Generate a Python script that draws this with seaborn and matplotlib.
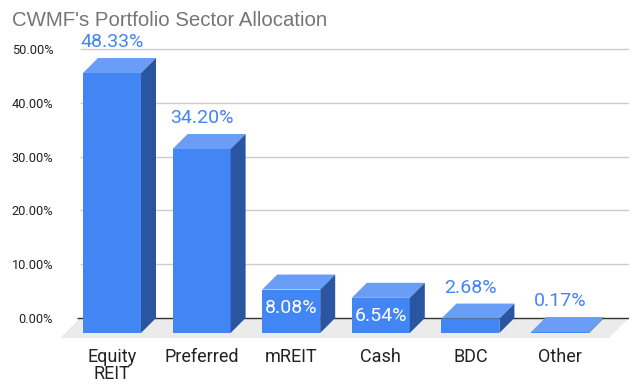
import matplotlib
matplotlib.use('Agg')
import matplotlib.pyplot as plt
from matplotlib.patches import Polygon
import seaborn as sns
import pandas as pd

# data
sectors = ['Equity\nREIT', 'Preferred', 'mREIT', 'Cash', 'BDC', 'Other']
weights = [48.33, 34.20, 8.08, 6.54, 2.68, 0.17]
y_ticks = [0, 10, 20, 30, 40, 50]
y_tick_labels = ['0.00%', '10.00%', '20.00%', '30.00%', '40.00%', '50.00%']
inside_labels = ['mREIT', 'Cash']

# colours
front_col = '#4285f4'
top_col = '#699df6'
side_col = '#2a56a1'
floor_col = '#ebebeb'

# layout in pixels (figure is 633x388)
W, H = 633, 388
ax_left, ax_right, ax_top, ax_bottom = 60, 629, 30, 338
slot = 89.6          # distance between bar centres
first_center = 112   # front centre of first bar
zero_front = 333     # pixel row of 0 on the front plane
px_per_pct = 5.38
depth = 15           # bar depth
floor_depth = 20

sns.set_style('white')
plt.rcParams['font.family'] = ['Roboto', 'DejaVu Sans']

fig = plt.figure(figsize=(W / 100, H / 100), dpi=100)
ax = fig.add_axes([ax_left / W, 1 - ax_bottom / H,
                   (ax_right - ax_left) / W, (ax_bottom - ax_top) / H])

df = pd.DataFrame({'sector': sectors, 'weight': weights})
bar_w = 58 / slot
sns.barplot(data=df, x='sector', y='weight', ax=ax, color=front_col,
            saturation=1, width=bar_w, errorbar=None, edgecolor='none',
            linewidth=0, zorder=3)

xl = (ax_left - first_center) / slot
xr = (ax_right - first_center) / slot
y0 = (zero_front - ax_bottom) / px_per_pct
y1 = (zero_front - ax_top) / px_per_pct
ax.set_xlim(xl, xr)
ax.set_ylim(y0, y1)

dx = depth / slot
dy = depth / px_per_pct
fdx = floor_depth / slot
fdy = floor_depth / px_per_pct

# floor
ax.add_patch(Polygon([(xl, y0), (xl + fdx, y0 + fdy), (xr, y0 + fdy), (xr - fdx, y0)],
                     closed=True, facecolor=floor_col, edgecolor='none', zorder=1))

# gridlines on the back wall
ax.hlines([v + dy for v in y_ticks[1:]], xl + fdx, xr, color='#cccccc', lw=1, zorder=1.5)
ax.hlines(dy, xl + fdx - 0.03, xr, color='#333333', lw=1, zorder=1.6)

# 3d faces
for i, v in enumerate(weights):
    x0 = i - bar_w / 2
    x1 = i + bar_w / 2
    ax.add_patch(Polygon([(x0, v), (x1, v), (x1 + dx, v + dy), (x0 + dx, v + dy)],
                         closed=True, facecolor=top_col, edgecolor='none', zorder=3))
    ax.add_patch(Polygon([(x1, 0), (x1 + dx, dy), (x1 + dx, v + dy), (x1, v)],
                         closed=True, facecolor=side_col, edgecolor='none', zorder=3))
    lab = f'{v:.2f}%'
    if sectors[i] in inside_labels:
        ax.text(i, v - 18 / px_per_pct, lab, ha='center', va='center',
                color='white', fontsize=14, zorder=5)
    else:
        ax.text(i, v + dy + 16 / px_per_pct, lab, ha='center', va='center',
                color=front_col, fontsize=14, zorder=5)

ax.set_yticks([v + dy for v in y_ticks], y_tick_labels)
ax.set_xticks(range(len(sectors)), sectors)
ax.tick_params(axis='y', length=0, pad=5, labelsize=9.2, labelcolor='#222222')
ax.tick_params(axis='x', length=0, pad=7, labelsize=13, labelcolor='#222222')
for lbl in ax.get_xticklabels():
    lbl.set_linespacing(0.95)
ax.set_xlabel('')
ax.set_ylabel('')
for s in ax.spines.values():
    s.set_visible(False)

fig.text(12 / W, 1 - 26 / H, "CWMF's Portfolio Sector Allocation", ha='left',
         va='baseline', fontsize=14.7, color='#757575', family=['Liberation Sans', 'DejaVu Sans'])

fig.savefig('out.png', dpi=100)
